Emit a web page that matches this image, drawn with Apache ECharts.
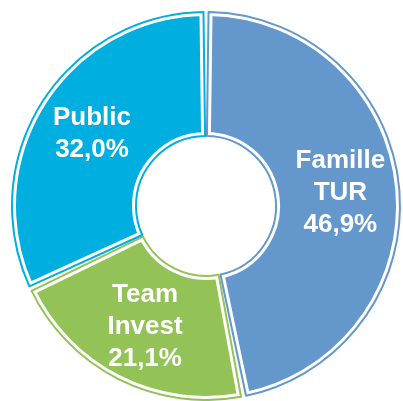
<!DOCTYPE html>
<html lang="fr">
<head>
    <meta charset="UTF-8">
    <title>Actionnariat</title>
    <script src="https://cdn.jsdelivr.net/npm/echarts@6/dist/echarts.min.js"></script>
    <style>
        html, body { margin: 0; padding: 0; background: #fff; }
    </style>
</head>
<body>
<div id="main" style="width: 403px; height: 401px;"></div>

<script type="text/javascript">

    // données du graphique
    var names = ['Famille TUR', 'Team Invest', 'Public'];
    var labelNames = ['Famille\nTUR', 'Team\nInvest', 'Public'];
    var values = [46.9, 21.1, 32.0];
    var colors = ['#6497CB', '#93C356', '#00AEE0'];

    function pct(v) {
        return v.toFixed(1).replace('.', ',') + '%';
    }

    var fillData = [];
    var lineData = [];
    for (var i = 0; i < names.length; i++) {
        fillData.push({
            name: names[i],
            value: values[i],
            itemStyle: { color: colors[i] },
            label: { formatter: labelNames[i] + '\n' + pct(values[i]) }
        });
        lineData.push({
            name: names[i],
            value: values[i],
            itemStyle: { borderColor: colors[i] }
        });
    }

    var myChart = echarts.init(document.getElementById('main'));
    myChart.setOption({
        animation: false,
        series: [{
            // remplissage, bordure blanche = bande blanche intérieure
            type: 'pie',
            center: [206, 206],
            radius: [70, 194],
            startAngle: 90,
            clockwise: true,
            padAngle: 1.5,
            silent: true,
            itemStyle: {
                borderColor: '#ffffff',
                borderWidth: 8
            },
            label: {
                show: true,
                position: 'inside',
                color: '#ffffff',
                fontFamily: 'Liberation Sans, Arial, sans-serif',
                fontWeight: 'bold',
                fontSize: 26,
                lineHeight: 32
            },
            labelLine: { show: false },
            data: fillData
        }, {
            // contour fin de chaque secteur
            type: 'pie',
            center: [206, 206],
            radius: [70, 194],
            startAngle: 90,
            clockwise: true,
            padAngle: 1.5,
            silent: true,
            itemStyle: {
                color: 'rgba(0,0,0,0)',
                borderWidth: 2
            },
            label: { show: false },
            labelLine: { show: false },
            data: lineData
        }]
    });

</script>
</body>
</html>
